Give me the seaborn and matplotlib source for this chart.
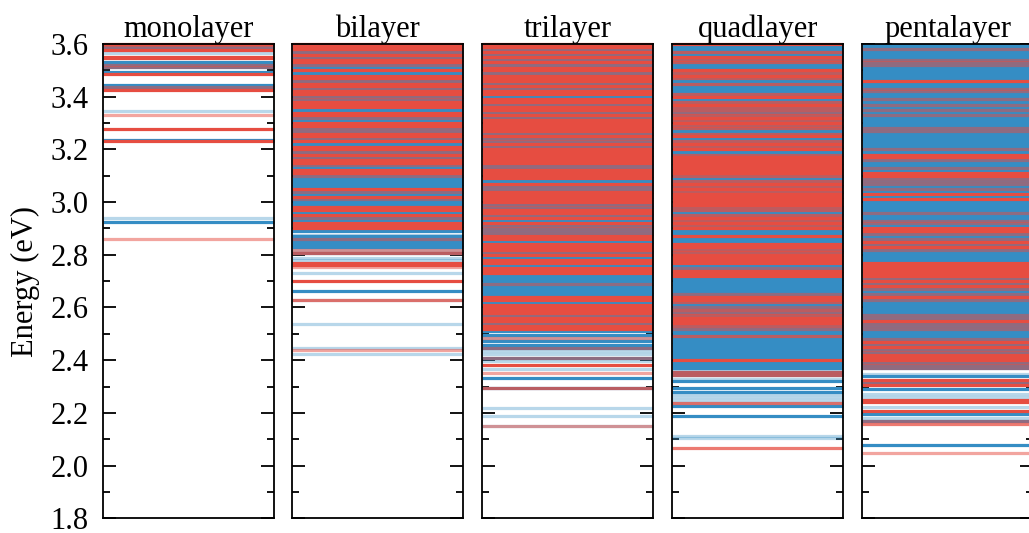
import matplotlib
matplotlib.use("Agg")
import matplotlib.pyplot as plt
from matplotlib.ticker import MultipleLocator, FormatStrFormatter
import numpy as np
import pandas as pd
import seaborn as sns

# ---------------------------------------------------------------------------
# Excitation levels (eV) per stacking order.
#   *_red / *_blue          : bright states of each polarization
#   *_red_mid / *_red_weak  : red states of medium / weak strength
#   *_blue_weak             : weak blue states
# ---------------------------------------------------------------------------
panel_titles = ["monolayer", "bilayer", "trilayer", "quadlayer", "pentalayer"]

mono_red = [3.600, 3.577, 3.552, 3.546, 3.485, 3.426, 3.277, 3.230]
mono_blue = [3.596, 3.587, 3.533, 3.520, 3.514, 3.493, 3.445, 3.438, 3.236, 2.923]
mono_red_mid = []
mono_red_weak = [3.596, 3.587, 3.520, 3.514, 3.438, 3.331, 2.861]
mono_blue_weak = [3.565, 3.347, 2.940]

bi_red = [3.60, 3.59, 3.58, 3.56, 3.54, 3.53, 3.50, 3.48, 3.47, 3.45, 3.44, 3.42,
          3.41, 3.38, 3.37, 3.36, 3.34, 3.33, 3.30, 3.29, 3.26, 3.25, 3.23, 3.21,
          3.20, 3.18, 3.16, 3.15, 3.12, 3.11, 3.05, 3.02, 2.98, 2.97, 2.95, 2.920,
          2.911, 2.903, 2.769, 2.760, 2.702]
bi_blue = [3.57, 3.55, 3.52, 3.51, 3.49, 3.46, 3.43, 3.40, 3.39, 3.35, 3.32, 3.31,
           3.28, 3.27, 3.24, 3.22, 3.19, 3.17, 3.14, 3.13, 3.10, 3.09, 3.08, 3.07,
           3.06, 3.04, 3.03, 3.01, 3.00, 2.99, 2.96, 2.94, 2.933, 2.925, 2.890,
           2.870, 2.860, 2.847, 2.838, 2.830, 2.807, 2.664]
bi_red_mid = [2.807, 2.630]
bi_red_weak = [3.57, 3.55, 3.52, 3.46, 3.43, 3.40, 3.39, 3.32, 3.28, 3.27, 3.24,
               3.19, 3.17, 3.14, 3.10, 3.04, 3.01, 2.94, 2.860, 2.819, 2.754, 2.437]
bi_blue_weak = [2.876, 2.819, 2.788, 2.779, 2.731, 2.630, 2.538, 2.447, 2.424]

tri_red = [3.60, 3.59, 3.57, 3.55, 3.53, 3.51, 3.50, 3.48, 3.47, 3.46, 3.44, 3.42,
           3.41, 3.39, 3.38, 3.36, 3.35, 3.33, 3.31, 3.30, 3.29, 3.28, 3.27, 3.25,
           3.22, 3.20, 3.19, 3.18, 3.17, 3.16, 3.15, 3.12, 3.11, 3.10, 3.09, 3.07,
           3.04, 3.03, 3.02, 3.01, 3.00, 2.97, 2.96, 2.94, 2.92, 2.87, 2.86, 2.84,
           2.83, 2.82, 2.80, 2.78, 2.77, 2.75, 2.74, 2.73, 2.64, 2.63, 2.61, 2.60,
           2.59, 2.58, 2.56, 2.55, 2.53, 2.52, 2.380]
tri_blue = [3.58, 3.56, 3.54, 3.52, 3.49, 3.45, 3.43, 3.40, 3.37, 3.34, 3.32, 3.26,
            3.24, 3.23, 3.21, 3.14, 3.13, 3.08, 3.06, 3.05, 2.99, 2.98, 2.95, 2.93,
            2.91, 2.90, 2.89, 2.88, 2.85, 2.81, 2.79, 2.76, 2.72, 2.71, 2.70, 2.69,
            2.68, 2.67, 2.66, 2.65, 2.62, 2.57, 2.54, 2.510, 2.497, 2.472, 2.459,
            2.447, 2.409, 2.333, 2.295]
tri_red_mid = [2.295]
tri_red_weak = [3.58, 3.56, 3.54, 3.52, 3.49, 3.45, 3.43, 3.37, 3.34, 3.32, 3.26,
                3.24, 3.23, 3.21, 3.14, 3.13, 3.06, 3.05, 2.99, 2.98, 2.95, 2.91,
                2.90, 2.89, 2.88, 2.81, 2.69, 2.57, 2.54, 2.485, 2.447, 2.409,
                2.350, 2.152]
tri_blue_weak = [2.485, 2.434, 2.422, 2.396, 2.365, 2.219, 2.188, 2.152]

quad_red = [3.60, 3.55, 3.50, 3.48, 3.40, 3.37, 3.32, 3.30, 3.25, 3.22, 3.20, 3.17,
            3.16, 3.15, 3.14, 3.13, 3.12, 3.11, 3.07, 3.05, 3.03, 3.02, 3.01, 3.00,
            2.99, 2.94, 2.92, 2.90, 2.87, 2.84, 2.83, 2.80, 2.79, 2.78, 2.77, 2.74,
            2.73, 2.72, 2.64, 2.63, 2.56, 2.55, 2.54, 2.40]
quad_blue = [3.59, 3.58, 3.57, 3.56, 3.54, 3.53, 3.52, 3.51, 3.49, 3.47, 3.46, 3.45,
             3.44, 3.43, 3.42, 3.41, 3.39, 3.38, 3.36, 3.35, 3.34, 3.33, 3.31, 3.29,
             3.28, 3.27, 3.26, 3.24, 3.23, 3.21, 3.19, 3.18, 3.10, 3.09, 3.08, 3.06,
             3.04, 2.98, 2.97, 2.96, 2.95, 2.93, 2.91, 2.89, 2.88, 2.86, 2.85, 2.82,
             2.81, 2.76, 2.75, 2.71, 2.70, 2.69, 2.68, 2.67, 2.66, 2.65, 2.62, 2.61,
             2.60, 2.59, 2.58, 2.57, 2.53, 2.52, 2.51, 2.50, 2.49, 2.48, 2.47, 2.46,
             2.45, 2.44, 2.43, 2.42, 2.41, 2.39, 2.38, 2.372, 2.355, 2.345, 2.320,
             2.293, 2.281, 2.226, 2.188]
quad_red_mid = [3.57, 3.54, 3.53, 3.49, 3.47, 3.45, 3.41, 3.38, 3.36, 3.35, 3.33,
                3.31, 3.29, 3.28, 3.26, 3.23, 3.21, 3.18, 3.10, 3.08, 3.06, 3.04,
                2.98, 2.97, 2.95, 2.93, 2.91, 2.82, 2.81, 2.62, 2.59, 2.57, 2.53,
                2.49, 2.355, 2.345, 2.238, 2.068]
quad_red_weak = [3.34, 2.75, 2.65, 2.60, 2.58, 2.52]
quad_blue_weak = [2.362, 2.327, 2.270, 2.260, 2.250, 2.238, 2.112, 2.105]

pent_red = [3.46, 3.18, 3.17, 3.11, 3.10, 3.03, 3.01, 2.90, 2.89, 2.85, 2.83, 2.77,
            2.76, 2.75, 2.74, 2.73, 2.72, 2.70, 2.68, 2.64, 2.55, 2.47, 2.45, 2.42,
            2.41, 2.40, 2.325, 2.305, 2.25, 2.24, 2.207]
pent_blue = [3.595, 3.59, 3.58, 3.57, 3.56, 3.55, 3.54, 3.53, 3.52, 3.51, 3.50,
             3.49, 3.48, 3.47, 3.45, 3.44, 3.43, 3.42, 3.41, 3.40, 3.39, 3.38, 3.37,
             3.36, 3.35, 3.34, 3.33, 3.32, 3.31, 3.30, 3.29, 3.28, 3.27, 3.26, 3.25,
             3.24, 3.23, 3.22, 3.21, 3.20, 3.19, 3.16, 3.15, 3.14, 3.13, 3.12, 3.09,
             3.08, 3.07, 3.06, 3.05, 3.04, 3.02, 3.00, 2.99, 2.98, 2.97, 2.96, 2.95,
             2.94, 2.93, 2.92, 2.91, 2.88, 2.87, 2.86, 2.84, 2.82, 2.81, 2.80, 2.79,
             2.78, 2.71, 2.69, 2.67, 2.66, 2.65, 2.63, 2.62, 2.61, 2.60, 2.59, 2.58,
             2.57, 2.56, 2.54, 2.53, 2.52, 2.51, 2.50, 2.49, 2.48, 2.46, 2.44, 2.43,
             2.39, 2.38, 2.37, 2.340, 2.315, 2.289, 2.194, 2.169, 2.080]
pent_red_mid = [2.156]
pent_red_weak = [3.58, 3.54, 3.53, 3.52, 3.43, 3.42, 3.39, 3.37, 3.35, 3.33, 3.28,
                 3.27, 3.20, 3.16, 3.13, 3.09, 3.08, 3.07, 3.05, 2.96, 2.93, 2.92,
                 2.88, 2.86, 2.84, 2.82, 2.71, 2.69, 2.67, 2.65, 2.63, 2.57, 2.56,
                 2.54, 2.53, 2.52, 2.48, 2.46, 2.44, 2.43, 2.39, 2.38, 2.37, 2.315,
                 2.169, 2.046]
pent_blue_weak = [2.346, 2.270, 2.262, 2.221, 2.182]

RED = "#e64d41"
BLUE = "#358dc4"

panel_levels = {
    "monolayer": dict(red=mono_red, blue=mono_blue, red_mid=mono_red_mid,
                      red_weak=mono_red_weak, blue_weak=mono_blue_weak),
    "bilayer": dict(red=bi_red, blue=bi_blue, red_mid=bi_red_mid,
                    red_weak=bi_red_weak, blue_weak=bi_blue_weak),
    "trilayer": dict(red=tri_red, blue=tri_blue, red_mid=tri_red_mid,
                     red_weak=tri_red_weak, blue_weak=tri_blue_weak),
    "quadlayer": dict(red=quad_red, blue=quad_blue, red_mid=quad_red_mid,
                      red_weak=quad_red_weak, blue_weak=quad_blue_weak),
    "pentalayer": dict(red=pent_red, blue=pent_blue, red_mid=pent_red_mid,
                       red_weak=pent_red_weak, blue_weak=pent_blue_weak),
}

# drawing order: weak blue underneath, bright red on top
draw_styles = [
    ("blue_weak", BLUE, 0.35),
    ("blue", BLUE, 1.0),
    ("red_weak", RED, 0.50),
    ("red_mid", RED, 0.75),
    ("red", RED, 1.0),
]


def level_frame(energies):
    n = len(energies)
    return pd.DataFrame({
        "x": np.tile([0.0, 1.0], n),
        "energy": np.repeat(np.asarray(energies, dtype=float), 2),
        "level": np.repeat(np.arange(n), 2),
    })


sns.set_theme(style="ticks")
plt.rcParams["font.family"] = ["Liberation Serif", "DejaVu Serif"]
plt.rcParams.update({
    "axes.edgecolor": "black",
    "axes.linewidth": 1.3,
    "text.color": "black",
    "axes.labelcolor": "black",
    "xtick.color": "black",
    "ytick.color": "black",
})

W, H = 1029, 533
fig = plt.figure(figsize=(W / 100, H / 100), dpi=100)

panel_left = [102.7, 292.3, 482.3, 672.3, 862.3]
panel_w = 171.0
panel_top, panel_bottom = 44.0, 518.3

FS = 22
for i, title in enumerate(panel_titles):
    rect = [panel_left[i] / W, (H - panel_bottom) / H,
            panel_w / W, (panel_bottom - panel_top) / H]
    ax = fig.add_axes(rect)
    levels = panel_levels[title]
    for key, color, alpha in draw_styles:
        if not levels[key]:
            continue
        sns.lineplot(data=level_frame(levels[key]), x="x", y="energy",
                     units="level", estimator=None, color=color, alpha=alpha,
                     linewidth=2.3, solid_capstyle="butt", clip_on=False,
                     legend=False, ax=ax)
    ax.set_xlim(0, 1)
    ax.set_ylim(1.8, 3.6)
    ax.set_xticks([])
    ax.set_xlabel("")
    ax.yaxis.set_major_locator(MultipleLocator(0.2))
    ax.yaxis.set_minor_locator(MultipleLocator(0.1))
    ax.yaxis.set_major_formatter(FormatStrFormatter("%.1f"))
    ax.tick_params(axis="y", which="major", direction="in", left=True, right=True,
                   length=9.6, width=1.3, color="black", labelcolor="black",
                   labelsize=FS, pad=10)
    ax.tick_params(axis="y", which="minor", direction="in", left=True, right=True,
                   length=4.8, width=1.3, color="black")
    for sp in ax.spines.values():
        sp.set_color("black")
        sp.set_linewidth(1.3)
        sp.set_zorder(5)
    ax.set_title(title, fontsize=FS, pad=5, color="black")
    if i == 0:
        ax.set_ylabel("Energy (eV)", fontsize=FS, labelpad=8, color="black")
    else:
        ax.set_ylabel("")
        ax.tick_params(axis="y", which="both", labelleft=False)

fig.savefig("out.png", dpi=100)
